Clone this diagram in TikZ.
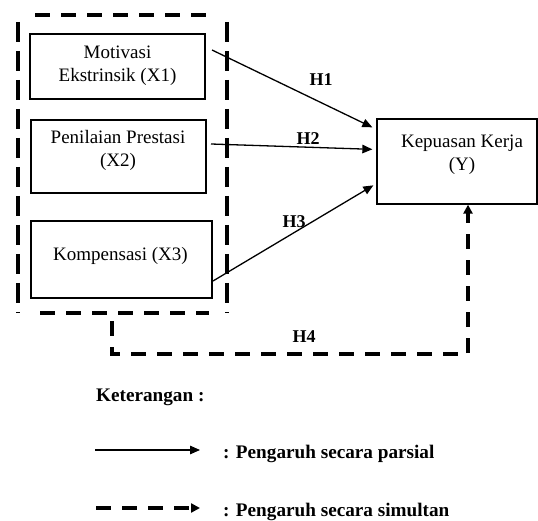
\documentclass[tikz,border=0pt]{standalone}
\usepackage{fontspec}
\setmainfont{Liberation Serif}
\usetikzlibrary{arrows.meta,calc}
\tikzset{
  box/.style={draw, line width=1.3pt, inner sep=0pt},
  txt/.style={font=\fontsize{19}{23}\selectfont, align=center, inner sep=0pt},
  lbl/.style={font=\fontsize{18}{21}\selectfont\bfseries, inner sep=0pt},
  legtxt/.style={font=\fontsize{19.2}{22}\selectfont\bfseries, inner sep=0pt, anchor=base west},
  partial/.style={line width=1.3pt, -{Triangle[length=10pt,width=8.5pt]}},
  simul/.style={line width=3.3pt, dash pattern=on 15pt off 11pt},
  simularrow/.style={simul, -{Triangle[length=9pt,width=9pt]}},
}
\begin{document}
\begin{tikzpicture}[x=1pt,y=-1pt]
\useasboundingbox (0,0) rectangle (538,521);
% boxes
\node[box, minimum width=175pt, minimum height=65pt] (x1) at (117.5,66.5) {};
\node[box, minimum width=175pt, minimum height=73pt] (x2) at (118.5,156.5) {};
\node[box, minimum width=181pt, minimum height=77pt] (x3) at (121.5,259.5) {};
\node[box, minimum width=160pt, minimum height=85pt] (y) at (457,161.5) {};
% box texts
\node[txt] (x1t) at (117.5,66) {Motivasi\\Ekstrinsik (X1)};
\node[txt] (x2t) at (118,150) {Penilaian Prestasi\\(X2)};
\node[txt] (x3t) at (120.5,256) {Kompensasi (X3)};
\node[txt] (yt) at (462,155) {Kepuasan Kerja\\(Y)};
% dashed group frame
\coordinate (ftl) at (35,15);
\coordinate (ftr) at (206,15);
\coordinate (fl1) at (18,22);
\coordinate (fl2) at (18,313);
\coordinate (fr1) at (227,22);
\coordinate (fr2) at (227,313);
\coordinate (fbl) at (40,313);
\coordinate (fbr) at (209,313);
\draw[simul] (ftl) -- (ftr);
\draw[simul, dash pattern=on 20pt off 9pt] (fl1) -- (fl2);
\draw[simul, dash pattern=on 20pt off 9pt] (fr1) -- (fr2);
\draw[simul] (fbl) -- (fbr);
% partial arrows
\coordinate (h1s) at (212,50);
\coordinate (h2s) at (211,144);
\coordinate (h3s) at (213,281);
\coordinate (h1e) at ([shift={(-4,9)}]y.north west);
\coordinate (h2e) at ([shift={(-4,31)}]y.north west);
\coordinate (h3e) at ([shift={(-3,67)}]y.north west);
\draw[partial] (h1s) -- (h1e);
\draw[partial] (h2s) -- (h2e);
\draw[partial] (h3s) -- (h3e);
% simultaneous arrow
\coordinate (h4s) at (112,321);
\coordinate (h4e) at ([xshift=11pt]y.south);
\draw[simularrow] (h4s) -- (112,354) -- (468,354) -- (h4e);
% labels
\node[lbl] (lh1) at (321,80) {H1};
\node[lbl] (lh2) at (308,138.5) {H2};
\node[lbl] (lh3) at (294,221.5) {H3};
\node[lbl] (lh4) at (304,336.5) {H4};
% legend
\node[legtxt] (ket) at (96,401) {Keterangan :};
\coordinate (l1s) at (95,450);
\coordinate (l1e) at (200,450);
\draw[partial] (l1s) -- (l1e);
\node[legtxt] (lt1) at (223,458) {: Pengaruh secara parsial};
\coordinate (l2s) at (96,508);
\coordinate (l2e) at (200,508);
\draw[simularrow] (l2s) -- (l2e);
\node[legtxt] (lt2) at (223,516) {: Pengaruh secara simultan};
\end{tikzpicture}
\end{document}
